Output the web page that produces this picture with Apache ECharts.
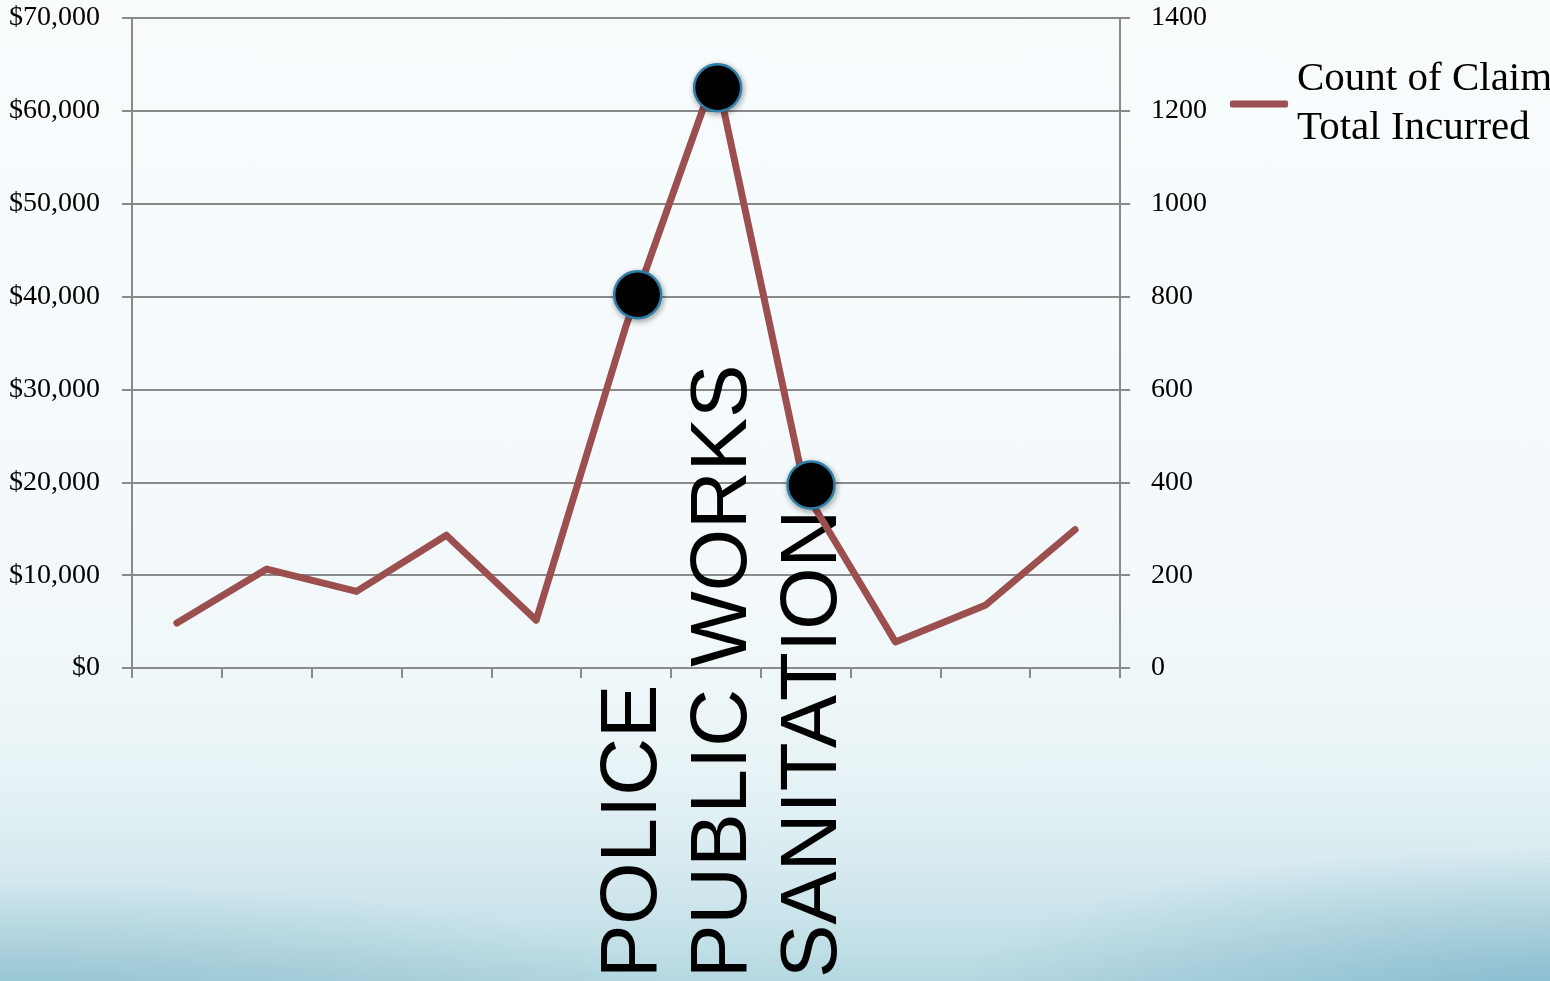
<!DOCTYPE html>
<html>
<head>
<meta charset="utf-8">
<script src="https://cdn.jsdelivr.net/npm/echarts@6/dist/echarts.min.js"></script>
<style>
html,body{margin:0;padding:0;width:1550px;height:981px;overflow:hidden;}
body{background:
  radial-gradient(ellipse 700px 130px at 0px 1010px, rgba(110,170,190,0.5), rgba(110,170,190,0) 100%),
  radial-gradient(ellipse 600px 150px at 1560px 995px, rgba(100,165,190,0.55), rgba(100,165,190,0) 100%),
  linear-gradient(to bottom, #f8fcfd 0px, #f3f9fb 600px, #e9f4f7 760px, #d8ebf0 860px, #c3e0e7 940px, #b4d8e1 981px);}
#chart{width:1550px;height:981px;}
</style>
</head>
<body>
<div id="chart"></div>
<script>
// categories (only three labels legible in the reference)
const categories = ['', '', '', '', '', 'POLICE', 'PUBLIC WORKS', 'SANITATION', '', '', ''];
// Count of Claim (right axis)
const countOfClaim = [97, 213, 165, 286, 103, 737, 1282, 378, 56, 135, 298];
// Total Incurred markers: [x position in category units, value]
const totalIncurred = [[5.63, 40200], [6.52, 62500], [7.56, 19700]];
const leftTicks = [0, 10000, 20000, 30000, 40000, 50000, 60000, 70000];
const rightTicks = [0, 200, 400, 600, 800, 1000, 1200, 1400];
const seriesName = 'Count of Claim\nTotal Incurred';

const serif = 'Liberation Serif';
const gray = '#8a8a8a';
const chart = echarts.init(document.getElementById('chart'));
chart.setOption({
  backgroundColor: 'transparent',
  animation: false,
  grid: {left: 132, right: 430, top: 18, bottom: 311, containLabel: false},
  legend: {
    data: [seriesName],
    left: 1225, top: 50,
    icon: 'roundRect',
    itemWidth: 58, itemHeight: 7, itemGap: 0,
    textStyle: {fontFamily: serif, fontSize: 41, color: '#000', lineHeight: 49, padding: [0,0,0,4]}
  },
  xAxis: [{
    type: 'category', data: categories, boundaryGap: true,
    axisLine: {lineStyle: {color: gray, width: 2}},
    axisTick: {show: true, length: 10, lineStyle: {color: gray, width: 2}},
    axisLabel: {
      interval: 0, rotate: 90, align: 'left', verticalAlign: 'top', lineHeight: 16, margin: 310,
      fontFamily: 'Liberation Sans', fontSize: 80, color: '#000'
    }
  }, {
    type: 'value', min: 0, max: 11, show: false
  }],
  yAxis: [{
    type: 'value', min: 0, max: 70000, interval: 10000,
    axisLine: {show: true, lineStyle: {color: gray, width: 2}},
    axisTick: {show: true, length: 10, lineStyle: {color: gray, width: 2}},
    splitLine: {show: true, lineStyle: {color: gray, width: 2}},
    axisLabel: {
      margin: 32, fontFamily: serif, fontSize: 28, color: '#000',
      formatter: v => '$' + v.toLocaleString('en-US')
    }
  }, {
    type: 'value', min: 0, max: 1400, interval: 200, position: 'right',
    axisLine: {show: true, lineStyle: {color: gray, width: 2}},
    axisTick: {show: true, length: 10, lineStyle: {color: gray, width: 2}},
    splitLine: {show: false},
    axisLabel: {margin: 31, fontFamily: serif, fontSize: 28, color: '#000', formatter: v => String(v)}
  }],
  series: [{
    name: seriesName, type: 'line', xAxisIndex: 0, yAxisIndex: 1,
    data: countOfClaim, showSymbol: false, symbol: 'none',
    lineStyle: {color: '#9c4f4f', width: 7, cap: 'round', join: 'round'},
    itemStyle: {color: '#9c4f4f'}, z: 2
  }, {
    name: 'Total Incurred', type: 'scatter', xAxisIndex: 1, yAxisIndex: 0,
    data: totalIncurred, symbol: 'circle', symbolSize: 47,
    itemStyle: {color: '#000', opacity: 1, borderColor: '#2d7fa8', borderWidth: 2.5,
      shadowColor: 'rgba(0,0,0,0.35)', shadowBlur: 6, shadowOffsetX: 1, shadowOffsetY: 2},
    emphasis: {disabled: true},
    z: 3
  }]
});
</script>
</body>
</html>
